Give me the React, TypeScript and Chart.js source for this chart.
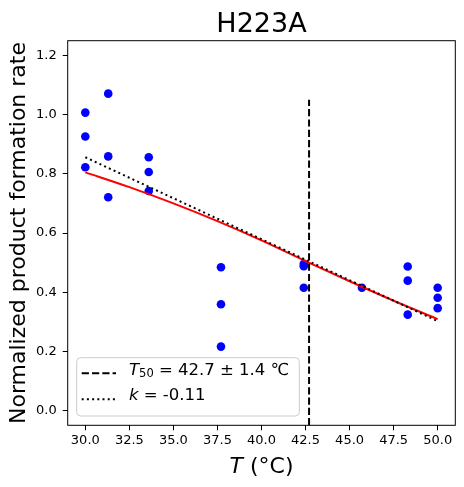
import React, { useEffect, useRef } from "react";
import { Chart, registerables } from "chart.js";

Chart.register(...registerables);

// measured points (temperature, normalized rate)
const pointT = [
  30.0, 30.0, 30.0, 31.3, 31.3, 31.3, 33.6, 33.6, 33.6, 37.7, 37.7, 37.7,
  42.4, 42.4, 42.4, 45.7, 48.3, 48.3, 48.3, 50.0, 50.0, 50.0,
];
const pointRate = [
  1.007, 0.926, 0.822, 1.071, 0.859, 0.721, 0.856, 0.806, 0.742, 0.484,
  0.359, 0.216, 0.496, 0.488, 0.415, 0.415, 0.487, 0.439, 0.324, 0.415,
  0.381, 0.346,
];

// fitted curve
const fitT = [30, 32.5, 35, 37.5, 40, 42.5, 45, 47.5, 50];
const fitRate = [0.805, 0.755, 0.7, 0.64, 0.575, 0.505, 0.437, 0.371, 0.309];

// slope line through T50
const slopeT = [30, 50];
const slopeRate = [0.856, 0.302];

// T50 marker
const t50T = [42.7, 42.7];
const t50Rate = [-0.05, 1.05];

const xTicks = [30, 32.5, 35, 37.5, 40, 42.5, 45, 47.5, 50];
const yTicks = [0, 0.2, 0.4, 0.6, 0.8, 1.0, 1.2];

const FONT = "DejaVu Sans";

const toXY = (xs: number[], ys: number[]) =>
  xs.map((x, i) => ({ x, y: ys[i] }));

const decorations = {
  id: "decorations",
  afterDatasetsDraw(chart: any) {
    const { ctx, chartArea } = chart;
    const { left, top, right, bottom } = chartArea;
    ctx.save();
    // axes box
    ctx.strokeStyle = "#000";
    ctx.lineWidth = 1;
    ctx.strokeRect(left, top, right - left, bottom - top);
    ctx.restore();
  },
  afterDraw(chart: any) {
    const { ctx, chartArea } = chart;
    const { left, top, right, bottom } = chartArea;
    const cx = (left + right) / 2;
    ctx.save();
    ctx.fillStyle = "#000";

    // title
    ctx.font = `27px ${FONT}`;
    ctx.textAlign = "center";
    ctx.textBaseline = "alphabetic";
    ctx.fillText("H223A", cx, 32.3);

    // y label
    ctx.save();
    ctx.translate(25, (top + bottom) / 2);
    ctx.rotate(-Math.PI / 2);
    ctx.font = `22px ${FONT}`;
    ctx.fillText("Normalized product formation rate", 0, 0);
    ctx.restore();

    // x label: italic T + " (°C)"
    ctx.textAlign = "left";
    ctx.font = `italic 22px ${FONT}`;
    const wT = ctx.measureText("T").width;
    ctx.font = `22px ${FONT}`;
    const wRest = ctx.measureText(" (°C)").width;
    const x0 = cx - (wT + wRest) / 2;
    ctx.font = `italic 22px ${FONT}`;
    ctx.fillText("T", x0, 472.7);
    ctx.font = `22px ${FONT}`;
    ctx.fillText(" (°C)", x0 + wT, 472.7);

    // legend
    ctx.beginPath();
    ctx.roundRect(76.7, 357.7, 222.6, 58.3, 4);
    ctx.fillStyle = "rgba(255,255,255,0.8)";
    ctx.fill();
    ctx.strokeStyle = "#cccccc";
    ctx.lineWidth = 1;
    ctx.stroke();

    ctx.strokeStyle = "#000";
    ctx.lineWidth = 2;
    ctx.setLineDash([7.2, 3.1]);
    ctx.beginPath();
    ctx.moveTo(81.7, 373.3);
    ctx.lineTo(116, 373.3);
    ctx.stroke();
    ctx.setLineDash([2, 3.2]);
    ctx.beginPath();
    ctx.moveTo(81.7, 399.3);
    ctx.lineTo(116, 399.3);
    ctx.stroke();
    ctx.setLineDash([]);

    ctx.fillStyle = "#000";
    const tx = 129;
    ctx.font = `italic 16.5px ${FONT}`;
    ctx.fillText("T", tx, 375.3);
    const wT2 = ctx.measureText("T").width;
    ctx.font = `11.5px ${FONT}`;
    ctx.fillText("50", tx + wT2, 377.3);
    const wSub = ctx.measureText("50").width;
    ctx.font = `16.5px ${FONT}`;
    ctx.fillText(" = 42.7 ± 1.4 ℃", tx + wT2 + wSub, 375.3);

    ctx.font = `italic 16.5px ${FONT}`;
    ctx.fillText("k", tx, 400.3);
    const wk = ctx.measureText("k").width;
    ctx.font = `16.5px ${FONT}`;
    ctx.fillText(" = -0.11", tx + wk, 400.3);

    ctx.restore();
  },
};

const App: React.FC = () => {
  const canvasRef = useRef<HTMLCanvasElement>(null);
  const chartInstance = useRef<Chart>();

  useEffect(() => {
    document.body.style.margin = "0";
    if (!canvasRef.current) return;
    const ctx = canvasRef.current.getContext("2d");
    if (!ctx) return;

    const axisGrid = {
      display: true,
      drawOnChartArea: false,
      drawTicks: true,
      tickLength: 5,
      color: "#000",
      lineWidth: 1,
    };

    chartInstance.current = new Chart(ctx, {
      type: "scatter",
      data: {
        datasets: [
          {
            label: "data",
            data: toXY(pointT, pointRate),
            backgroundColor: "#0000ff",
            borderWidth: 0,
            pointRadius: 4.3,
            order: 5,
          },
          {
            type: "line",
            label: "fit",
            data: toXY(fitT, fitRate),
            borderColor: "#ff0000",
            borderWidth: 2,
            pointRadius: 0,
            cubicInterpolationMode: "monotone",
            fill: false,
            order: 3,
          },
          {
            type: "line",
            label: "slope",
            data: toXY(slopeT, slopeRate),
            borderColor: "#000",
            borderWidth: 2,
            borderDash: [2, 3.2],
            pointRadius: 0,
            fill: false,
            order: 2,
          },
          {
            type: "line",
            label: "T50",
            data: toXY(t50T, t50Rate),
            borderColor: "#000",
            borderWidth: 2,
            borderDash: [7.2, 3.1],
            pointRadius: 0,
            fill: false,
            order: 1,
          },
        ],
      },
      options: {
        animation: false,
        responsive: true,
        maintainAspectRatio: false,
        layout: { padding: { left: 0, top: 40.7, right: 8.7, bottom: 0 } },
        plugins: {
          legend: { display: false },
          title: { display: false },
          tooltip: { enabled: false },
        },
        scales: {
          x: {
            type: "linear",
            min: 29,
            max: 51,
            grid: axisGrid,
            border: { display: false },
            afterBuildTicks: (scale: any) => {
              scale.ticks = xTicks.map((v) => ({ value: v }));
            },
            afterFit: (scale: any) => {
              scale.height = 487 - 425.3;
            },
            ticks: {
              color: "#000",
              font: { family: FONT, size: 13 },
              padding: 3,
              maxRotation: 0,
              autoSkip: false,
              callback: (v: any) => Number(v).toFixed(1),
            },
          },
          y: {
            type: "linear",
            min: -0.05,
            max: 1.25,
            grid: axisGrid,
            border: { display: false },
            afterBuildTicks: (scale: any) => {
              scale.ticks = yTicks.map((v) => ({ value: v }));
            },
            afterFit: (scale: any) => {
              scale.width = 67.7;
            },
            ticks: {
              color: "#000",
              font: { family: FONT, size: 13 },
              padding: 6,
              autoSkip: false,
              callback: (v: any) => Number(v).toFixed(1),
            },
          },
        },
      },
      plugins: [decorations],
    });

    return () => {
      if (chartInstance.current) {
        chartInstance.current.destroy();
      }
    };
  }, []);

  return (
    <div
      style={{
        position: "absolute",
        left: 0,
        top: 0,
        width: "464px",
        height: "487px",
      }}
    >
      <canvas ref={canvasRef} />
    </div>
  );
};

export default App;
